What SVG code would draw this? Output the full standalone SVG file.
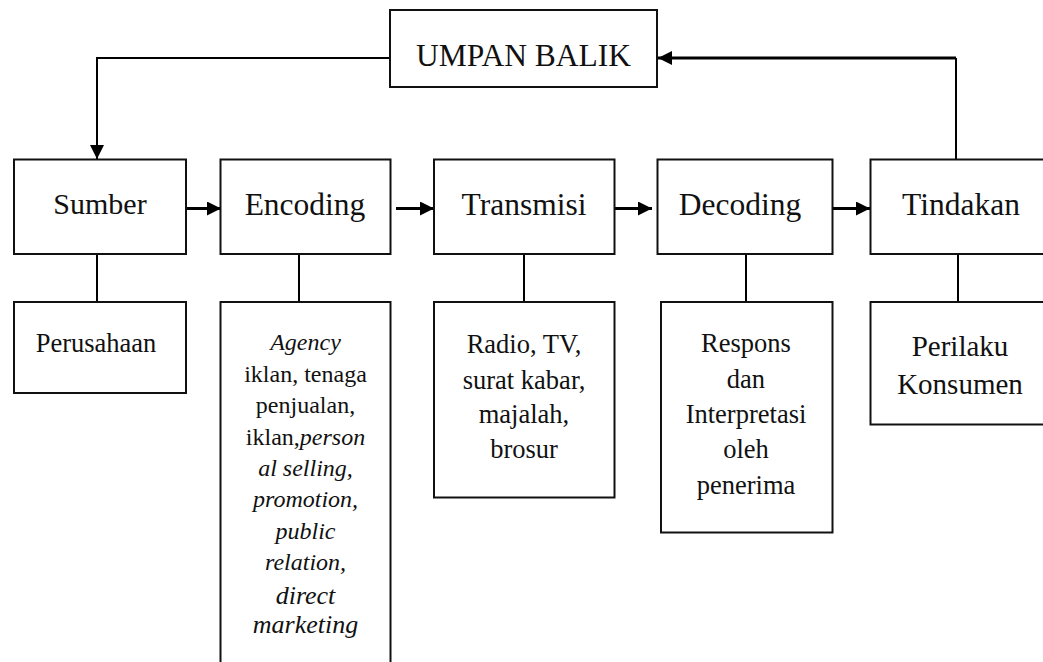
<svg xmlns="http://www.w3.org/2000/svg" width="1043" height="662" viewBox="0 0 1043 662">
<defs>
<style>
.box{fill:#fff;stroke:#111;stroke-width:2}
.t{font-family:"Liberation Serif","Times New Roman",serif;fill:#111;text-anchor:middle}
.main{font-size:31.5px}
.sub{font-size:26.5px}
.ag{font-size:24px}
.it{font-style:italic}
.ln{fill:none;stroke:#000;stroke-width:2}
.ar{fill:none;stroke:#000;stroke-width:3}
</style>
<marker id="ah" markerWidth="14" markerHeight="14" viewBox="0 0 14 14" refX="14" refY="7" orient="auto" markerUnits="userSpaceOnUse">
<path d="M0,0 L14,7 L0,14 Z" fill="#000"/>
</marker>
</defs>
<rect width="1043" height="662" fill="#fff"/>
<g id="connectors">
<polyline class="ln" points="390,58 97,58 97,159" marker-end="url(#ah)"/>
<line class="ln" x1="956" y1="159" x2="956" y2="58"/>
<line class="ar" x1="956" y1="58" x2="658" y2="58" marker-end="url(#ah)"/>
<line class="ar" x1="186" y1="208.5" x2="221" y2="208.5" marker-end="url(#ah)"/>
<line class="ar" x1="396" y1="208.5" x2="434" y2="208.5" marker-end="url(#ah)"/>
<line class="ar" x1="615" y1="208.5" x2="652" y2="208.5" marker-end="url(#ah)"/>
<line class="ar" x1="833" y1="208.5" x2="870" y2="208.5" marker-end="url(#ah)"/>
<line class="ln" x1="97" y1="254" x2="97" y2="302"/>
<line class="ln" x1="299" y1="254" x2="299" y2="302"/>
<line class="ln" x1="524" y1="254" x2="524" y2="302"/>
<line class="ln" x1="746" y1="254" x2="746" y2="302"/>
<line class="ln" x1="958" y1="254" x2="958" y2="302"/>
</g>
<g id="umpan-balik">
<rect class="box" x="390" y="10" width="267" height="77"/>
<text class="t main" x="523.5" y="66">UMPAN BALIK</text>
</g>
<g id="sumber">
<rect class="box" x="14" y="159.5" width="172" height="94.5"/>
<text class="t" style="font-size:30px" x="100" y="214">Sumber</text>
</g>
<g id="encoding">
<rect class="box" x="220.5" y="159.5" width="170" height="94.5"/>
<text class="t main" x="305" y="215">Encoding</text>
</g>
<g id="transmisi">
<rect class="box" x="434" y="159.5" width="180.5" height="94.5"/>
<text class="t main" x="524" y="215">Transmisi</text>
</g>
<g id="decoding">
<rect class="box" x="657.5" y="159.5" width="175" height="94.5"/>
<text class="t main" x="740" y="215">Decoding</text>
</g>
<g id="tindakan">
<rect class="box" x="870.5" y="159.5" width="185" height="94.5"/>
<text class="t main" x="961" y="215">Tindakan</text>
</g>
<g id="perusahaan">
<rect class="box" x="14" y="302" width="172" height="91"/>
<text class="t sub" x="96" y="351.5">Perusahaan</text>
</g>
<g id="agency">
<rect class="box" x="220.5" y="302" width="170" height="380"/>
<text class="t ag" x="305.5" y="350"><tspan class="it">Agency</tspan></text>
<text class="t ag" x="305.5" y="381.5">iklan, tenaga</text>
<text class="t ag" x="305.5" y="413">penjualan,</text>
<text class="t ag" x="305.5" y="445">iklan,<tspan class="it">person</tspan></text>
<text class="t ag it" x="305.5" y="475.5">al selling,</text>
<text class="t ag it" x="305.5" y="507">promotion,</text>
<text class="t ag it" x="305.5" y="538.5">public</text>
<text class="t ag it" x="305.5" y="570">relation,</text>
<text class="t it" style="font-size:26px" x="305.5" y="604">direct</text>
<text class="t it" style="font-size:26px" x="305.5" y="633">marketing</text>
</g>
<g id="media">
<rect class="box" x="434" y="302" width="180.5" height="195.5"/>
<text class="t sub" x="524" y="352.5">Radio, TV,</text>
<text class="t sub" x="524" y="388.5">surat kabar,</text>
<text class="t sub" x="524" y="423">majalah,</text>
<text class="t sub" x="524" y="458">brosur</text>
</g>
<g id="respons">
<rect class="box" x="661" y="302" width="171.5" height="230.5"/>
<text class="t sub" x="746" y="351.5">Respons</text>
<text class="t sub" x="746" y="388">dan</text>
<text class="t sub" x="746" y="423">Interpretasi</text>
<text class="t sub" x="746" y="458">oleh</text>
<text class="t sub" x="746" y="494">penerima</text>
</g>
<g id="perilaku">
<rect class="box" x="870.5" y="302" width="185" height="122.5"/>
<text class="t" style="font-size:29px" x="960" y="356">Perilaku</text>
<text class="t" style="font-size:29px" x="960" y="394">Konsumen</text>
</g>
</svg>
